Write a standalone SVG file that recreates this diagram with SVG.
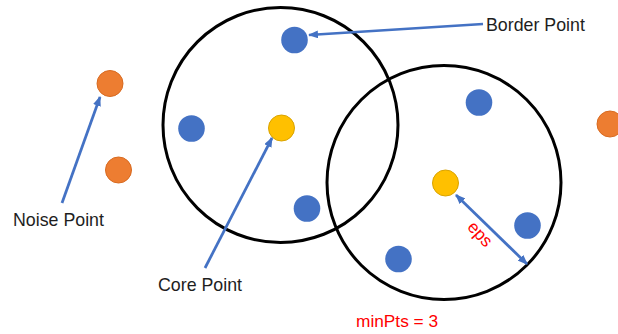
<svg xmlns="http://www.w3.org/2000/svg" width="618" height="334" viewBox="0 0 618 334">
<style>
.ring{fill:none;stroke:#000;stroke-width:3}
.b{fill:#4472C4}
.y{fill:#FFC000;stroke:#D9A300;stroke-width:1}
.o{fill:#ED7D31;stroke:#D86A20;stroke-width:1}
.c{stroke:#4472C4;stroke-width:2.75;fill:none}
.t{font-family:"Liberation Sans",Arial,sans-serif;font-size:17.8px;fill:#1E1E1E}
.r{font-family:"Liberation Sans",Arial,sans-serif;font-size:17.3px;fill:#FF0000}
</style>
<defs>
<marker id="ah" viewBox="0 0 10 8" refX="9" refY="4" markerWidth="10" markerHeight="8" markerUnits="userSpaceOnUse" orient="auto-start-reverse">
<path d="M0,0 L10,4 L0,8 Z" fill="#4472C4"/>
</marker>
</defs>
<rect width="618" height="334" fill="#fff"/>
<g id="neighborhood1"><circle class="ring" cx="280.5" cy="125" r="117.5"/></g>
<g id="neighborhood2"><circle class="ring" cx="444" cy="182.5" r="117"/></g>
<g id="border-point"><circle class="b" cx="294.5" cy="40" r="13.3"/></g>
<g id="blue-left"><circle class="b" cx="191.5" cy="128.5" r="13.3"/></g>
<g id="core-point"><circle class="y" cx="281.5" cy="128" r="13"/></g>
<g id="blue-lower"><circle class="b" cx="307" cy="208.5" r="13.3"/></g>
<g id="blue-top-right"><circle class="b" cx="479" cy="102.5" r="13.3"/></g>
<g id="core-point-2"><circle class="y" cx="445.5" cy="183" r="13"/></g>
<g id="blue-right"><circle class="b" cx="527.5" cy="225.5" r="13.3"/></g>
<g id="blue-bottom"><circle class="b" cx="398.5" cy="259" r="13.3"/></g>
<g id="noise-point"><circle class="o" cx="110" cy="83.5" r="13"/></g>
<g id="noise-2"><circle class="o" cx="118.5" cy="170" r="13"/></g>
<g id="noise-3"><circle class="o" cx="610" cy="124" r="13"/></g>
<g id="connectors">
<line class="c" x1="483" y1="24" x2="309" y2="35" marker-end="url(#ah)"/>
<line class="c" x1="205" y1="268" x2="272" y2="138" marker-end="url(#ah)"/>
<line class="c" x1="62" y1="203" x2="100" y2="97" marker-end="url(#ah)"/>
<line class="c" x1="456" y1="195" x2="527" y2="264" marker-start="url(#ah)" marker-end="url(#ah)"/>
</g>
<g id="labels">
<text class="t" x="486" y="30.5">Border Point</text>
<text class="t" x="13" y="226">Noise Point</text>
<text class="t" x="158" y="291">Core Point</text>
<text class="r" x="356" y="327">minPts = 3</text>
<text class="r" x="476" y="238" text-anchor="middle" transform="rotate(47 476 238)">eps</text>
</g>
</svg>
